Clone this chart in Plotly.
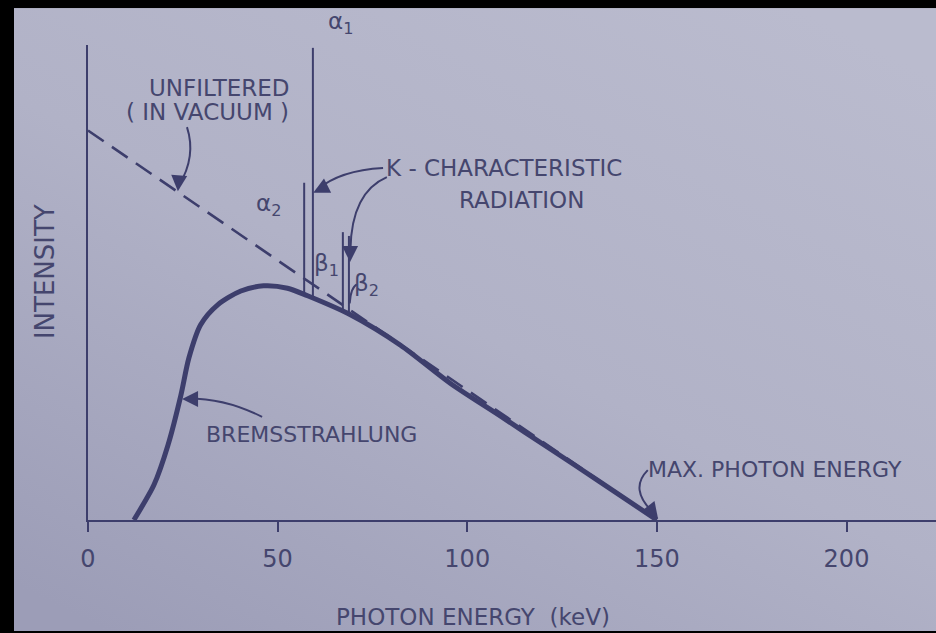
import base64
import numpy as np
import plotly.graph_objects as go

# Bremsstrahlung spectrum (filtered), keV vs relative intensity
brems_kev = [12.1, 14.5, 17.4, 21.1, 24.5, 26.6, 29.7, 34.2, 40.3, 46.3, 52.6,
             57.9, 69.2, 82.4, 95.5, 108.7, 121.8, 134.7, 150.0]
brems_int = [0.0, 3.2, 7.4, 15.8, 26.3, 34.1, 41.1, 45.3, 48.2, 49.3, 48.8,
             47.2, 43.2, 36.8, 28.8, 21.9, 15.0, 8.2, 0.0]

# Unfiltered (in vacuum) spectrum: straight line to the max photon energy
unfilt_kev = [0.0, 150.0]
unfilt_int = [82.0, 0.0]

# K-characteristic lines of tungsten
k_names = ["α2", "α1", "β1", "β2"]
k_kev = [57.0, 59.3, 67.2, 68.8]
k_top = [71.0, 99.4, 60.6, 59.8]

x_ticks = [0, 50, 100, 150, 200]

INK = "#3d3e6c"
TXT = "#45466e"
FONT = "DejaVu Sans"

fig = go.Figure()

fig.add_trace(go.Scatter(
    x=unfilt_kev, y=unfilt_int, mode="lines",
    line=dict(color=INK, width=2.6, dash="19px,10px"),
    showlegend=False, hoverinfo="skip"))

fig.add_trace(go.Scatter(
    x=brems_kev, y=brems_int, mode="lines",
    line=dict(color=INK, width=5, shape="spline", smoothing=0.8),
    showlegend=False, hoverinfo="skip"))

# characteristic lines rise from the continuum curve
k_base = np.interp(k_kev, brems_kev, brems_int)
for e, b, t in zip(k_kev, k_base, k_top):
    fig.add_trace(go.Scatter(
        x=[e, e], y=[b, t], mode="lines",
        line=dict(color=INK, width=2),
        showlegend=False, hoverinfo="skip"))

# printed sheet: soft shading, darker toward the lower left
sheet_svg = (
    '<svg xmlns="http://www.w3.org/2000/svg" width="100" height="100" '
    'preserveAspectRatio="none">'
    '<defs><linearGradient id="g" x1="0.85" y1="0" x2="0.1" y2="1">'
    '<stop offset="0" stop-color="#babbce"/>'
    '<stop offset="0.5" stop-color="#b1b2c7"/>'
    '<stop offset="1" stop-color="#9c9db7"/>'
    '</linearGradient></defs>'
    '<rect width="100" height="100" fill="url(#g)"/></svg>'
)
sheet_src = "data:image/svg+xml;base64," + base64.b64encode(sheet_svg.encode()).decode()

images = [dict(source=sheet_src, xref="paper", yref="paper",
               x=-0.0873, y=1.0778, sizex=1.0873, sizey=1.3115,
               sizing="stretch", xanchor="left", yanchor="top",
               layer="below", opacity=1)]

# curved leader lines of the call-outs
def curve(p0, c, p1):
    return dict(type="path", xref="x", yref="y",
                path=f"M {p0[0]},{p0[1]} Q {c[0]},{c[1]} {p1[0]},{p1[1]}",
                line=dict(color=INK, width=2))

leaders = [
    ((26.1, 82.7), (28.6, 76.5), (24.0, 70.5)),      # unfiltered
    ((77.8, 74.1), (66.4, 73.6), (60.6, 69.6)),      # K -> alpha1
    ((78.8, 72.2), (69.5, 69.0), (69.2, 57.0)),      # K -> beta
    ((45.9, 21.7), (36.5, 25.6), (26.5, 25.6)),      # bremsstrahlung
    ((147.6, 10.5), (142.6, 6.5), (149.0, 1.6)),     # max photon energy
    ((69.0, 45.6), (69.3, 49.0), (70.9, 49.6)),      # beta2 hook
]
shapes = [curve(p0, c, p1) for p0, c, p1 in leaders]

def head(tip, dx, dy):
    return dict(x=tip[0], y=tip[1], xref="x", yref="y", text="",
                showarrow=True, arrowhead=2, arrowsize=1.6, arrowwidth=2,
                arrowcolor=INK, ax=dx, ay=dy, standoff=0)

def label(x, y, text, size=22, xanchor="center", yref="y"):
    return dict(x=x, y=y, xref="x", yref=yref, text=text, showarrow=False,
                xanchor=xanchor, yanchor="middle",
                font=dict(family=FONT, size=size, color=TXT))

annotations = [
    head((23.7, 69.2), 1, -12),
    head((59.4, 68.9), 12, -6),
    head((69.1, 54.3), 0, -14),
    head((24.8, 25.5), 12, 0),
    head((150.3, 0.3), -7, -9),
    label(34.8, 90.9, "UNFILTERED", size=23),
    label(31.5, 85.9, "( IN VACUUM )", size=23),
    label(78.0, 74.1, "K - CHARACTERISTIC", size=23, xanchor="left"),
    label(114.4, 67.4, "RADIATION", size=23),
    label(47.5, 66.3, "α<sub>2</sub>", size=23),
    label(66.7, 1.046, "α<sub>1</sub>", size=23, yref="paper"),
    label(63.0, 53.7, "β<sub>1</sub>", size=23),
    label(73.5, 49.5, "β<sub>2</sub>", size=23),
    label(58.8, 18.1, "BREMSSTRAHLUNG", size=22),
    label(147.2, 10.6, "MAX. PHOTON ENERGY", size=22, xanchor="left"),
    dict(x=-0.0507, y=0.522, xref="paper", yref="paper", text="INTENSITY",
         showarrow=False, textangle=-90, xanchor="center", yanchor="middle",
         font=dict(family=FONT, size=26, color=TXT)),
    dict(x=0.454, y=-0.204, xref="paper", yref="paper",
         text="PHOTON ENERGY  (keV)", showarrow=False,
         xanchor="center", yanchor="middle",
         font=dict(family=FONT, size=23, color=TXT)),
]

fig.update_layout(
    width=936, height=633,
    margin=dict(l=88, r=0, t=45, b=113),
    paper_bgcolor="#000000",
    plot_bgcolor="rgba(0,0,0,0)",
    shapes=shapes,
    images=images,
    annotations=annotations,
    xaxis=dict(range=[0, 223.6], showgrid=False, zeroline=False,
               showline=True, linecolor=INK, linewidth=2,
               ticks="outside", ticklen=10, tickwidth=2, tickcolor=INK,
               ticklabelstandoff=6,
               tickvals=x_ticks, ticktext=[str(v) for v in x_ticks],
               tickfont=dict(family=FONT, size=24, color=TXT)),
    yaxis=dict(range=[0, 100], showgrid=False, zeroline=False,
               showline=True, linecolor=INK, linewidth=2,
               showticklabels=False, ticks=""),
)

fig.write_html("out.html")
